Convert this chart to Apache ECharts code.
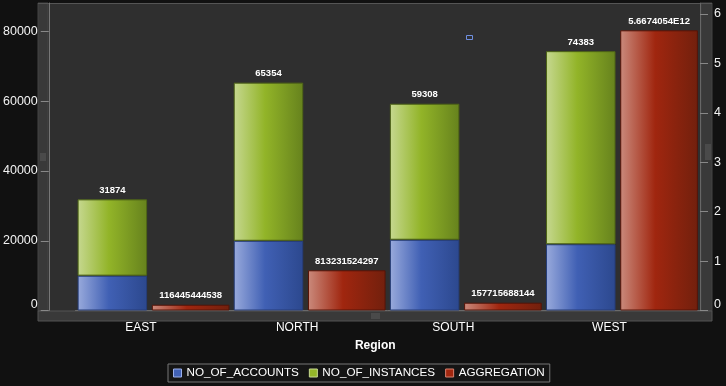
<!DOCTYPE html>
<html>
<head>
<meta charset="utf-8">
<script src="https://cdn.jsdelivr.net/npm/echarts@6/dist/echarts.min.js"></script>
<style>html,body{margin:0;padding:0;background:#111111;}#c{width:726px;height:386px;}</style>
</head>
<body>
<div id="c"></div>
<script>
const categories = ['EAST', 'NORTH', 'SOUTH', 'WEST'];
const accounts = [10000, 20000, 20300, 19000];
const instances = [21874, 45354, 39008, 55383];
const aggregation = [116445444538, 813231524297, 157715688144, 5667405400000];
const leftTicks = [0, 20000, 40000, 60000, 80000];
const rightTicks = [0, 1e12, 2e12, 3e12, 4e12, 5e12, 6e12];

const FONT = '"Liberation Sans", Arial, sans-serif';
function grad(a, b, c) {
  return { type: 'linear', x: 0, y: 0, x2: 1, y2: 0,
    colorStops: [{ offset: 0, color: a }, { offset: 0.45, color: b }, { offset: 1, color: c }] };
}
const blueFill = grad('#99aadc', '#4060b4', '#2c488e');
const greenFill = grad('#c6d890', '#92b428', '#66821d');
const redFill = grad('#ca8a7c', '#a0260f', '#72200d');

const chart = echarts.init(document.getElementById('c'));
const labelFmt = function (v) { return v === 0 ? '{z|0}' : String(v); };

chart.setOption({
  backgroundColor: '#111111',
  animation: false,
  textStyle: { fontFamily: FONT },
  graphic: [
    { type: 'rect', z: -10, shape: { x: 48, y: 3, width: 653, height: 308 }, style: { fill: '#2f2f2f' } },
    { type: 'rect', z: -9, shape: { x: 38, y: 3, width: 10, height: 308 }, style: { fill: '#393939', stroke: '#444', lineWidth: 1 } },
    { type: 'rect', z: -9, shape: { x: 701, y: 3, width: 11, height: 308 }, style: { fill: '#393939', stroke: '#444', lineWidth: 1 } },
    { type: 'rect', z: -9, shape: { x: 38, y: 311, width: 674, height: 10 }, style: { fill: '#393939', stroke: '#555', lineWidth: 1 } },
    { type: 'line', z: -8, shape: { x1: 38, y1: 3.5, x2: 712, y2: 3.5 }, style: { stroke: '#555', lineWidth: 1 } },
    { type: 'rect', z: -8, shape: { x: 40, y: 153, width: 6, height: 8 }, style: { fill: '#4a4a4a' } },
    { type: 'rect', z: -8, shape: { x: 705, y: 144, width: 6, height: 16 }, style: { fill: '#4a4a4a' } },
    { type: 'rect', z: -8, shape: { x: 371, y: 313, width: 9, height: 6 }, style: { fill: '#4a4a4a' } },
    { type: 'rect', z: 5, shape: { x: 466.5, y: 35.5, width: 6, height: 4 }, style: { fill: '#2f2f2f', stroke: '#6f8fe0', lineWidth: 1 } }
  ],
  grid: { left: 74.7, right: 26, top: 3, bottom: 75.5, containLabel: false },
  legend: {
    left: 168, bottom: 4,
    padding: [3, 5, 3, 5],
    itemGap: 10, itemWidth: 8, itemHeight: 8,
    backgroundColor: '#151515', borderColor: '#777', borderWidth: 1,
    textStyle: { color: '#ffffff', fontSize: 11.7, fontFamily: FONT },
    data: [
      { name: 'NO_OF_ACCOUNTS', icon: 'rect', itemStyle: { color: '#4262b6', borderColor: '#9cb0ea', borderWidth: 1 } },
      { name: 'NO_OF_INSTANCES', icon: 'rect', itemStyle: { color: '#94b629', borderColor: '#c8da92', borderWidth: 1 } },
      { name: 'AGGREGATION', icon: 'rect', itemStyle: { color: '#a2270f', borderColor: '#d8806e', borderWidth: 1 } }
    ]
  },
  xAxis: {
    type: 'category',
    data: categories,
    name: 'Region',
    nameLocation: 'middle',
    nameGap: 29,
    nameTextStyle: { color: '#ffffff', fontSize: 12, fontWeight: 'bold', padding: [0, 25, 0, 0] },
    axisLine: { show: true, lineStyle: { color: '#6a6a6a' } },
    axisTick: { show: false },
    axisLabel: { color: '#ffffff', fontSize: 12, margin: 11, padding: [0, 25, 0, 0] },
    splitLine: { show: false }
  },
  yAxis: [
    {
      type: 'value', min: 0, max: 88200, offset: 26.7, position: 'left',
      axisLine: { show: true, lineStyle: { color: '#777' } },
      axisTick: { show: true, length: 8, lineStyle: { color: '#888' }, customValues: leftTicks },
      axisLabel: { color: '#f2f2f2', fontSize: 12.5, margin: 11, customValues: leftTicks, formatter: labelFmt,
        rich: { z: { color: '#f2f2f2', fontSize: 12.5, padding: [0, 0, 11, 0] } } },
      splitLine: { show: false }
    },
    {
      type: 'value', min: 0, max: 6.22e12, position: 'right',
      axisLine: { show: true, lineStyle: { color: '#666' } },
      axisTick: { show: true, length: 8, lineStyle: { color: '#888' }, customValues: rightTicks },
      axisLabel: { color: '#f2f2f2', fontSize: 12.5, margin: 14, customValues: rightTicks,
        formatter: function (v) { return v === 0 ? '{z|0}' : String(v / 1e12); },
        rich: { z: { color: '#f2f2f2', fontSize: 12.5, padding: [0, 0, 11, 0] } } },
      splitLine: { show: false }
    }
  ],
  series: [
    {
      name: 'NO_OF_ACCOUNTS', type: 'bar', stack: 'cnt', yAxisIndex: 0,
      barWidth: 69.5, barGap: '6.8%',
      data: accounts,
      itemStyle: { color: blueFill, borderColor: '#263d78', borderWidth: 1 }
    },
    {
      name: 'NO_OF_INSTANCES', type: 'bar', stack: 'cnt', yAxisIndex: 0,
      barWidth: 69.5, barGap: '6.8%',
      data: instances,
      itemStyle: { color: greenFill, borderColor: '#4e6416', borderWidth: 1 },
      label: { show: true, position: 'top', distance: 4, color: '#ffffff', fontSize: 9.5, fontWeight: 'bold',
        formatter: function (p) { return String(accounts[p.dataIndex] + instances[p.dataIndex]); } }
    },
    {
      name: 'AGGREGATION', type: 'bar', yAxisIndex: 1,
      barWidth: 77.6, barGap: '6.8%',
      data: aggregation,
      itemStyle: { color: redFill, borderColor: '#561408', borderWidth: 1 },
      label: { show: true, position: 'top', distance: 4, color: '#ffffff', fontSize: 9.5, fontWeight: 'bold',
        formatter: function (p) {
          const v = p.value;
          return v >= 1e12 ? (v / 1e12).toPrecision(8).replace(/0+$/, '') + 'E12' : String(v);
        } }
    }
  ]
});
</script>
</body>
</html>
